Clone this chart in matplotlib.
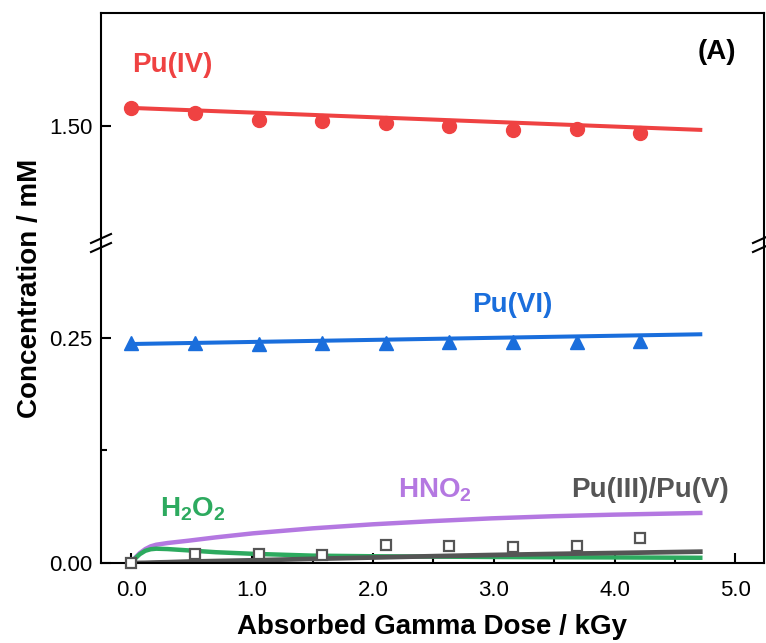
import matplotlib
matplotlib.use("Agg")
import matplotlib.pyplot as plt
import numpy as np

plt.rcParams['font.family'] = ['Liberation Sans', 'DejaVu Sans']
plt.rcParams['mathtext.default'] = 'regular'

# measured points (dose in kGy, concentration in mM)
dose_pts = [0.0, 0.527, 1.054, 1.58, 2.105, 2.632, 3.159, 3.686, 4.212]
pu4_pts = [1.520, 1.514, 1.507, 1.506, 1.503, 1.500, 1.496, 1.497, 1.492]
pu6_pts = [0.2441, 0.2441, 0.2438, 0.2446, 0.2446, 0.2452, 0.2458, 0.2450, 0.2467]
pu35_pts = [0.0, 0.0096, 0.0104, 0.0093, 0.0196, 0.0185, 0.0181, 0.0185, 0.0274]

# model curves
dose_line = [0.0, 4.71]
pu4_line = [1.520, 1.4956]
pu6_line = [0.2433, 0.2541]

dose_curve = [0.0, 0.03, 0.07, 0.116, 0.16, 0.206, 0.3, 0.474, 0.7, 1.01, 1.5, 2.0, 2.5, 2.98, 3.5, 3.99, 4.71]
hno2_curve = [0.0, 0.0055, 0.011, 0.0155, 0.0185, 0.0203, 0.0222, 0.0248, 0.0285, 0.033, 0.0385, 0.043, 0.0466, 0.0496, 0.052, 0.0537, 0.0556]
h2o2_curve = [0.0, 0.0048, 0.0098, 0.0136, 0.0153, 0.0159, 0.0155, 0.0140, 0.0120, 0.0102, 0.0082, 0.0075, 0.0071, 0.0067, 0.0064, 0.0062, 0.0058]
pu35_curve = [0.0, 0.0, 0.0001, 0.0002, 0.0004, 0.0006, 0.0009, 0.0016, 0.0022, 0.0030, 0.0046, 0.0061, 0.0076, 0.0089, 0.0101, 0.0111, 0.0126]

red = '#ef4242'
blue = '#1a6edc'
purple = '#b478e1'
green = '#2daa5f'
gray = '#555555'

fig = plt.figure(figsize=(7.66, 6.43), dpi=100)
gs = fig.add_gridspec(2, 1, height_ratios=[230, 320], hspace=0,
                      left=0.132, right=0.997, top=0.980, bottom=0.1244)
ax_top = fig.add_subplot(gs[0])
ax = fig.add_subplot(gs[1], sharex=ax_top)

# top panel: Pu(IV)
ax_top.plot(dose_line, pu4_line, color=red, lw=2.9, zorder=2)
ax_top.plot(dose_pts, pu4_pts, 'o', color=red, ms=10, zorder=3)
ax_top.set_ylim(1.37, 1.6256)
ax_top.set_yticks([1.50])
ax_top.set_yticklabels(['1.50'])

# bottom panel
ax.plot(dose_line, pu6_line, color=blue, lw=2.9, zorder=2)
ax.plot(dose_pts, pu6_pts, '^', color=blue, ms=10.5, zorder=3)
ax.plot(dose_curve, hno2_curve, color=purple, lw=3.2, zorder=2)
ax.plot(dose_curve, h2o2_curve, color=green, lw=3.2, zorder=2)
ax.plot(dose_curve, pu35_curve, color=gray, lw=3.4, zorder=2)
ax.plot(dose_pts, pu35_pts, 's', mfc='white', mec=gray, mew=1.6, ms=7.5, zorder=4,
        clip_on=False)
ax.set_ylim(0, 0.3556)
ax.set_yticks([0.0, 0.25])
ax.set_yticklabels(['0.00', '0.25'])
ax.set_yticks([0.125], minor=True)

ax.set_xlim(-0.25, 5.235)
ax.set_xticks([0, 1, 2, 3, 4, 5])
ax.set_xticklabels(['0.0', '1.0', '2.0', '3.0', '4.0', '5.0'])
ax.set_xticks([0.5, 1.5, 2.5, 3.5, 4.5], minor=True)

for a in (ax_top, ax):
    for s in a.spines.values():
        s.set_linewidth(1.5)
    a.tick_params(which='major', direction='in', length=7, width=1.5, labelsize=16, pad=6)
    a.tick_params(which='minor', direction='in', length=4, width=1.5)
ax.tick_params(axis='x', which='major', pad=12)
ax_top.spines['bottom'].set_visible(False)
ax.spines['top'].set_visible(False)
ax_top.tick_params(axis='x', which='both', bottom=False, labelbottom=False)
ax.tick_params(axis='x', which='both', top=False)

# break marks
W, H = 766.0, 643.0
yb = 1 - 243 / H
for xs in (101 / W, 763 / W):
    for off in (-4.5, 4.5):
        yc = yb + off / H
        fig.add_artist(plt.Line2D([xs - 10 / W, xs + 10 / W], [yc - 4.5 / H, yc + 4.5 / H],
                                  color='black', lw=1.5))

# labels
lab = dict(fontsize=20, fontweight='bold', ha='center', va='center')
ax_top.text(0.34, 1.568, 'Pu(IV)', color=red, **lab)
ax_top.text(4.85, 1.582, '(A)', color='black', **lab)
ax.text(3.15, 0.2867, 'Pu(VI)', color=blue, **lab)
ax.text(2.51, 0.0805, 'HNO$_2$', color=purple, **lab)
ax.text(0.51, 0.0595, 'H$_2$O$_2$', color=green, **lab)
ax.text(4.29, 0.081, 'Pu(III)/Pu(V)', color=gray, **lab)

fig.text(0.5 * (101 + 764) / W, 1 - 627 / H, 'Absorbed Gamma Dose / kGy',
         fontsize=20, fontweight='bold', ha='center', va='center')
fig.text(30 / W, 1 - 288 / H, 'Concentration / mM', fontsize=20, fontweight='bold',
         rotation=90, ha='center', va='center')

fig.savefig('out.png', dpi=100)
